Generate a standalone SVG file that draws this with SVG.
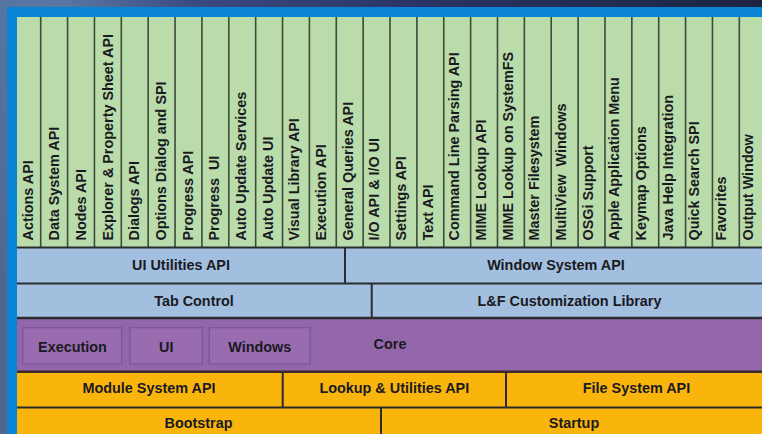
<svg xmlns="http://www.w3.org/2000/svg" width="762" height="434" viewBox="0 0 762 434">
<defs>
<linearGradient id="bg" x1="0" y1="0.7" x2="1" y2="0">
<stop offset="0" stop-color="#4e6690"/>
<stop offset="0.38" stop-color="#5877a3"/>
<stop offset="0.5" stop-color="#3a4a80"/>
<stop offset="0.7" stop-color="#2a3464"/>
<stop offset="1" stop-color="#1c2440"/>
</linearGradient>
<style>
.g{fill:#b9dcaa}
.lb{fill:#a3bfdf}
.pu{fill:#9366a9}
.pb{fill:#996cb0;stroke:#7a5596;stroke-width:1.2}
.or{fill:#fab50c}
.t{font-family:"Liberation Sans",Arial,sans-serif;font-weight:bold;font-size:14.4px;fill:#1a1a22;white-space:pre}
.c{text-anchor:middle}
.col{stroke:#3e4a3a;stroke-width:1.6}
.dv{stroke:#2a2c30;stroke-width:2}
</style>
</defs>
<rect x="0" y="0" width="762" height="434" fill="url(#bg)"/>
<rect x="7" y="7" width="760" height="430" fill="#0a84d4"/>

<g id="col-actions"><rect class="g" x="17" y="17" width="23.7" height="230"/><text class="t" transform="translate(32.6,240.5) rotate(-90)">Actions API</text></g>
<g id="col-datasystem"><rect class="g" x="40.7" y="17" width="26.87" height="230"/><text class="t" transform="translate(59.27,240.5) rotate(-90)">Data System API</text></g>
<g id="col-nodes"><rect class="g" x="67.57" y="17" width="26.87" height="230"/><text class="t" transform="translate(85.94,240.5) rotate(-90)">Nodes API</text></g>
<g id="col-explorer"><rect class="g" x="94.44" y="17" width="26.87" height="230"/><text class="t" transform="translate(112.61,240.5) rotate(-90)">Explorer &amp; Property Sheet API</text></g>
<g id="col-dialogs"><rect class="g" x="121.31" y="17" width="26.87" height="230"/><text class="t" transform="translate(139.28,240.5) rotate(-90)">Dialogs API</text></g>
<g id="col-options"><rect class="g" x="148.18" y="17" width="26.87" height="230"/><text class="t" transform="translate(165.95,240.5) rotate(-90)">Options Dialog and SPI</text></g>
<g id="col-progressapi"><rect class="g" x="175.05" y="17" width="26.87" height="230"/><text class="t" transform="translate(192.62,240.5) rotate(-90)">Progress API</text></g>
<g id="col-progressui"><rect class="g" x="201.92" y="17" width="26.87" height="230"/><text class="t" transform="translate(219.29,240.5) rotate(-90)">Progress  UI</text></g>
<g id="col-autoupdsvc"><rect class="g" x="228.79" y="17" width="26.87" height="230"/><text class="t" transform="translate(245.96,240.5) rotate(-90)">Auto Update Services</text></g>
<g id="col-autoupdui"><rect class="g" x="255.66" y="17" width="26.87" height="230"/><text class="t" transform="translate(272.63,240.5) rotate(-90)">Auto Update UI</text></g>
<g id="col-visual"><rect class="g" x="282.53" y="17" width="26.87" height="230"/><text class="t" transform="translate(299.3,240.5) rotate(-90)">Visual Library API</text></g>
<g id="col-execution"><rect class="g" x="309.4" y="17" width="26.87" height="230"/><text class="t" transform="translate(325.97,240.5) rotate(-90)">Execution API</text></g>
<g id="col-queries"><rect class="g" x="336.27" y="17" width="26.87" height="230"/><text class="t" transform="translate(352.64,240.5) rotate(-90)">General Queries API</text></g>
<g id="col-io"><rect class="g" x="363.14" y="17" width="26.87" height="230"/><text class="t" transform="translate(379.31,240.5) rotate(-90)">I/O API &amp; I/O UI</text></g>
<g id="col-settings"><rect class="g" x="390.01" y="17" width="26.87" height="230"/><text class="t" transform="translate(405.98,240.5) rotate(-90)">Settings API</text></g>
<g id="col-text"><rect class="g" x="416.88" y="17" width="26.87" height="230"/><text class="t" transform="translate(432.65,240.5) rotate(-90)">Text API</text></g>
<g id="col-cmdline"><rect class="g" x="443.75" y="17" width="26.87" height="230"/><text class="t" transform="translate(459.32,240.5) rotate(-90)">Command Line Parsing API</text></g>
<g id="col-mime"><rect class="g" x="470.62" y="17" width="26.87" height="230"/><text class="t" transform="translate(485.99,240.5) rotate(-90)">MIME Lookup API</text></g>
<g id="col-mimefs"><rect class="g" x="497.49" y="17" width="26.87" height="230"/><text class="t" transform="translate(512.66,240.5) rotate(-90)">MIME Lookup on SystemFS</text></g>
<g id="col-masterfs"><rect class="g" x="524.36" y="17" width="26.87" height="230"/><text class="t" transform="translate(539.33,240.5) rotate(-90)">Master Filesystem</text></g>
<g id="col-multiview"><rect class="g" x="551.23" y="17" width="26.87" height="230"/><text class="t" transform="translate(566,240.5) rotate(-90)">MultiView  Windows</text></g>
<g id="col-osgi"><rect class="g" x="578.1" y="17" width="26.87" height="230"/><text class="t" transform="translate(592.67,240.5) rotate(-90)">OSGi Support</text></g>
<g id="col-apple"><rect class="g" x="604.97" y="17" width="26.87" height="230"/><text class="t" transform="translate(619.34,240.5) rotate(-90)">Apple Application Menu</text></g>
<g id="col-keymap"><rect class="g" x="631.84" y="17" width="26.87" height="230"/><text class="t" transform="translate(646.01,240.5) rotate(-90)">Keymap Options</text></g>
<g id="col-javahelp"><rect class="g" x="658.71" y="17" width="26.87" height="230"/><text class="t" transform="translate(672.68,240.5) rotate(-90)">Java Help Integration</text></g>
<g id="col-quicksearch"><rect class="g" x="685.58" y="17" width="26.87" height="230"/><text class="t" transform="translate(699.35,240.5) rotate(-90)">Quick Search SPI</text></g>
<g id="col-favorites"><rect class="g" x="712.45" y="17" width="26.87" height="230"/><text class="t" transform="translate(726.02,240.5) rotate(-90)">Favorites</text></g>
<g id="col-output"><rect class="g" x="739.32" y="17" width="28" height="230"/><text class="t" transform="translate(752.69,240.5) rotate(-90)">Output Window</text></g>

<g id="ui-utilities"><rect class="lb" x="17" y="247.5" width="328" height="36"/><text class="t c" x="181" y="269.5">UI Utilities API</text></g>
<g id="window-system"><rect class="lb" x="345" y="247.5" width="422" height="36"/><text class="t c" x="556" y="269.5">Window System API</text></g>
<g id="tab-control"><rect class="lb" x="17" y="283.5" width="354.7" height="35"/><text class="t c" x="194" y="305.5">Tab Control</text></g>
<g id="laf"><rect class="lb" x="371.7" y="283.5" width="395.3" height="35"/><text class="t c" x="569.5" y="305.5">L&amp;F Customization Library</text></g>

<g id="core"><rect class="pu" x="17" y="318" width="750" height="54"/><text class="t c" x="390" y="349">Core</text></g>
<g id="core-execution"><rect class="pb" x="22.7" y="327.7" width="99" height="36.3"/><text class="t c" x="72.5" y="351.5">Execution</text></g>
<g id="core-ui"><rect class="pb" x="130" y="327.7" width="72.3" height="36.3"/><text class="t c" x="166.2" y="351.5">UI</text></g>
<g id="core-windows"><rect class="pb" x="209.3" y="327.7" width="100.7" height="36.3"/><text class="t c" x="259.7" y="351.5">Windows</text></g>

<g id="module-system"><rect class="or" x="17" y="372" width="265.7" height="35.5"/><text class="t c" x="149" y="392.5">Module System API</text></g>
<g id="lookup"><rect class="or" x="282.7" y="372" width="223.3" height="35.5"/><text class="t c" x="394.3" y="392.5">Lookup &amp; Utilities API</text></g>
<g id="file-system"><rect class="or" x="506" y="372" width="261" height="35.5"/><text class="t c" x="636.5" y="392.5">File System API</text></g>
<g id="bootstrap"><rect class="or" x="17" y="407.5" width="364" height="30"/><text class="t c" x="198.5" y="428">Bootstrap</text></g>
<g id="startup"><rect class="or" x="381" y="407.5" width="386" height="30"/><text class="t c" x="574" y="428">Startup</text></g>

<g id="dividers">
<g class="col">
<line x1="40.7" y1="17" x2="40.7" y2="247"/><line x1="67.57" y1="17" x2="67.57" y2="247"/><line x1="94.44" y1="17" x2="94.44" y2="247"/><line x1="121.31" y1="17" x2="121.31" y2="247"/><line x1="148.18" y1="17" x2="148.18" y2="247"/><line x1="175.05" y1="17" x2="175.05" y2="247"/><line x1="201.92" y1="17" x2="201.92" y2="247"/><line x1="228.79" y1="17" x2="228.79" y2="247"/><line x1="255.66" y1="17" x2="255.66" y2="247"/><line x1="282.53" y1="17" x2="282.53" y2="247"/><line x1="309.4" y1="17" x2="309.4" y2="247"/><line x1="336.27" y1="17" x2="336.27" y2="247"/><line x1="363.14" y1="17" x2="363.14" y2="247"/><line x1="390.01" y1="17" x2="390.01" y2="247"/><line x1="416.88" y1="17" x2="416.88" y2="247"/><line x1="443.75" y1="17" x2="443.75" y2="247"/><line x1="470.62" y1="17" x2="470.62" y2="247"/><line x1="497.49" y1="17" x2="497.49" y2="247"/><line x1="524.36" y1="17" x2="524.36" y2="247"/><line x1="551.23" y1="17" x2="551.23" y2="247"/><line x1="578.1" y1="17" x2="578.1" y2="247"/><line x1="604.97" y1="17" x2="604.97" y2="247"/><line x1="631.84" y1="17" x2="631.84" y2="247"/><line x1="658.71" y1="17" x2="658.71" y2="247"/><line x1="685.58" y1="17" x2="685.58" y2="247"/><line x1="712.45" y1="17" x2="712.45" y2="247"/><line x1="739.32" y1="17" x2="739.32" y2="247"/>
</g>
<g class="dv">
<line x1="17" y1="247.5" x2="762" y2="247.5"/>
<line x1="17" y1="283.5" x2="762" y2="283.5"/>
<line x1="17" y1="318" x2="762" y2="318" stroke-width="2.4"/>
<line x1="17" y1="371.8" x2="762" y2="371.8" stroke="#3a2a22" stroke-width="2.4"/>
<line x1="17" y1="407.5" x2="762" y2="407.5"/>
<line x1="345" y1="247.5" x2="345" y2="283.5"/>
<line x1="371.7" y1="283.5" x2="371.7" y2="318"/>
<line x1="282.7" y1="371.8" x2="282.7" y2="407.5"/>
<line x1="506" y1="371.8" x2="506" y2="407.5"/>
<line x1="381" y1="407.5" x2="381" y2="434"/>
</g>
</g>
</svg>
